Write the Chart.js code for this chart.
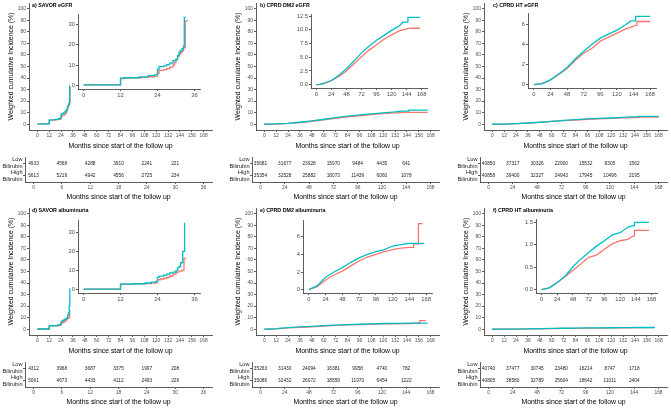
<!DOCTYPE html>
<html>
<head>
<meta charset="utf-8">
<script src="https://cdn.jsdelivr.net/npm/chart.js@4.4.1/dist/chart.umd.min.js"></script>
<style>
  body { margin: 0; background: #fff; width: 671px; height: 408px; overflow: hidden; position: relative; }
  canvas { position: absolute; }
  .ttl { position: absolute; font: bold 5.3px "Liberation Sans", Arial, sans-serif; white-space: nowrap; line-height: 1; color: #000; }
</style>
</head>
<body>
<script>
// tick labels
const mainTicks = [0, 12, 24, 36, 48, 60, 72, 84, 96, 108, 120, 132, 144, 156, 168];
const incTicks = [0, 10, 20, 30, 40, 50, 60, 70, 80, 90, 100];
const savorTicks = [0, 12, 24, 36];
const cprdTicks = [0, 24, 48, 72, 96, 120, 144, 168];
const savorTableTicks = [0, 6, 12, 18, 24, 30, 36];
const savorRiskMonths = [0, 6, 12, 18, 24, 30];
const cprdRiskMonths = [0, 24, 48, 72, 96, 120, 144];

// a) SAVOR eGFR
const aTimeLow = [0, 12, 13, 16, 19, 21, 23, 24, 24.5, 26, 27, 28, 29, 29.5, 30, 30.5, 31, 31.5, 32, 32.5, 33, 33.9];
const aIncLow = [0.3, 3.4, 3.6, 3.8, 4.0, 4.3, 4.6, 6.0, 7.4, 7.8, 8.3, 9.0, 10.0, 11.2, 12.6, 14.2, 15.3, 16.2, 17.0, 18.5, 31.6, 31.6];
const aTimeHigh = [0, 12, 13, 18, 21, 23, 24, 24.5, 26, 27, 28, 29, 30, 30.5, 31, 31.5, 32, 32.4, 32.7, 33.2];
const aIncHigh = [0.3, 3.6, 3.8, 4.2, 4.8, 5.2, 8.0, 9.2, 9.6, 10.2, 11.0, 12.2, 12.8, 14.6, 16.5, 17.2, 18.0, 19.3, 33.3, 33.3];
const aRiskLow = [4933, 4568, 4288, 3910, 2241, 221];
const aRiskHigh = [5613, 5219, 4942, 4556, 2725, 234];

// b) CPRD DM2 eGFR
const bTimeLow = [0, 6, 12, 24, 36, 48, 60, 72, 84, 96, 108, 120, 132, 138, 144, 150, 165];
const bIncLow = [0, 0.05, 0.2, 0.7, 1.5, 2.5, 3.8, 5.1, 6.3, 7.3, 8.3, 9.1, 9.8, 10.0, 10.2, 10.3, 10.3];
const bTimeHigh = [0, 6, 12, 24, 36, 48, 60, 72, 84, 96, 108, 120, 132, 138, 146, 146, 165];
const bIncHigh = [0, 0.05, 0.25, 0.75, 1.7, 2.9, 4.3, 5.8, 7.0, 8.1, 9.0, 9.9, 10.7, 11.4, 11.4, 12.3, 12.3];
const bRiskLow = [35681, 31677, 23928, 15970, 9484, 4435, 641];
const bRiskHigh = [35354, 32528, 25882, 18073, 11439, 6060, 1078];

// c) CPRD HT eGFR
const cTimeLow = [0, 12, 24, 36, 48, 60, 72, 84, 96, 108, 120, 132, 144, 149, 149, 168];
const cIncLow = [0, 0.1, 0.45, 1.0, 1.6, 2.4, 3.1, 3.6, 4.3, 4.7, 5.1, 5.5, 5.8, 5.9, 6.25, 6.25];
const cTimeHigh = [0, 12, 24, 36, 48, 60, 72, 84, 96, 108, 120, 132, 140, 147, 147, 168];
const cIncHigh = [0, 0.1, 0.47, 1.05, 1.7, 2.55, 3.3, 4.0, 4.6, 5.0, 5.4, 5.9, 6.3, 6.3, 6.75, 6.75];
const cRiskLow = [40850, 37317, 30326, 22900, 15532, 8305, 1562];
const cRiskHigh = [40858, 39400, 32327, 24943, 17945, 10496, 2195];

// d) SAVOR albuminuria
const dTimeLow = [0, 12, 16, 20, 22, 23.5, 24, 25, 26, 27, 28, 29, 30, 31, 32, 32.6, 33.3];
const dIncLow = [0.2, 2.9, 3.0, 3.2, 3.4, 3.8, 5.2, 5.6, 6.0, 6.5, 7.2, 8.2, 9.2, 9.8, 10.3, 16.5, 16.5];
const dTimeHigh = [0, 12, 16, 20, 22, 23.5, 24, 24.5, 26, 27, 28, 29, 30, 30.5, 31, 31.5, 32.2, 32.8, 33.0];
const dIncHigh = [0.2, 2.9, 3.1, 3.5, 3.9, 4.3, 6.5, 7.1, 7.6, 8.2, 8.8, 9.2, 10.0, 11.5, 12.2, 14.2, 20.2, 35.0, 35.0];
const dRiskLow = [4312, 3968, 3687, 3375, 1997, 208];
const dRiskHigh = [5061, 4673, 4433, 4112, 2493, 226];

// e) CPRD DM2 albuminuria
const eTimeLow = [0, 12, 24, 36, 48, 60, 72, 84, 96, 108, 120, 132, 144, 150, 150, 157, 157, 163];
const eIncLow = [0, 0.34, 1.1, 1.66, 2.1, 2.7, 3.25, 3.7, 4.0, 4.3, 4.55, 4.7, 4.8, 4.8, 5.2, 5.2, 7.5, 7.5];
const eTimeHigh = [0, 12, 24, 36, 48, 60, 72, 84, 96, 108, 120, 132, 144, 165];
const eIncHigh = [0, 0.45, 1.4, 2.0, 2.5, 3.1, 3.6, 4.0, 4.3, 4.55, 4.95, 5.1, 5.25, 5.25];
const eRiskLow = [35263, 31430, 24094, 16381, 9958, 4740, 782];
const eRiskHigh = [35086, 32432, 26072, 18559, 11970, 6454, 1222];

// f) CPRD HT albuminuria
const fTimeLow = [0, 12, 24, 36, 48, 60, 72, 84, 96, 108, 120, 132, 138, 142, 142, 164];
const fIncLow = [0, 0.04, 0.16, 0.29, 0.43, 0.57, 0.72, 0.77, 0.90, 1.02, 1.09, 1.12, 1.18, 1.2, 1.32, 1.32];
const fTimeHigh = [0, 12, 24, 36, 48, 60, 72, 84, 96, 108, 120, 132, 138, 142, 142, 164];
const fIncHigh = [0, 0.04, 0.16, 0.30, 0.51, 0.68, 0.83, 0.97, 1.09, 1.22, 1.27, 1.39, 1.42, 1.42, 1.50, 1.50];
const fRiskLow = [40740, 37477, 30745, 23480, 16214, 8747, 1718];
const fRiskHigh = [40805, 38580, 32789, 25604, 18642, 11011, 2404];

const FONT = '"Liberation Sans", Arial, sans-serif';
const RED = '#F8766D';
const CYAN = '#00BFC4';
const XTITLE = 'Months since start of the follow up';

const panels = [
  { col: 0, row: 0, title: 'a) SAVOR eGFR', tx: 32, stepped: true,
    lowT: aTimeLow, lowY: aIncLow, highT: aTimeHigh, highY: aIncHigh,
    inset: { L: 78, R: 200, T: 14, B: 89, xmin: -1.8, xmax: 37.8, xt: savorTicks, ymin: -1.7, ymax: 35, yt: [0, 10, 20, 30], dec: 0 },
    risk: { months: savorRiskMonths, low: aRiskLow, high: aRiskHigh, xt: savorTableTicks, max: 36 } },
  { col: 1, row: 0, title: 'b) CPRD DM2 eGFR', tx: 33, stepped: false,
    lowT: bTimeLow, lowY: bIncLow, highT: bTimeHigh, highY: bIncHigh,
    inset: { L: 84, R: 200, T: 14, B: 88, xmin: -8.4, xmax: 176.4, xt: cprdTicks, ymin: -0.62, ymax: 12.9, yt: [0, 2.5, 5, 7.5, 10, 12.5], dec: 1 },
    risk: { months: cprdRiskMonths, low: bRiskLow, high: bRiskHigh, xt: cprdTicks, max: 168 } },
  { col: 2, row: 0, title: 'c) CPRD HT eGFR', tx: 38, stepped: false,
    lowT: cTimeLow, lowY: cIncLow, highT: cTimeHigh, highY: cIncHigh,
    inset: { L: 73, R: 201, T: 13, B: 88, xmin: -8.4, xmax: 176.4, xt: cprdTicks, ymin: -0.34, ymax: 7.09, yt: [0, 2, 4, 6], dec: 0 },
    risk: { months: cprdRiskMonths, low: cRiskLow, high: cRiskHigh, xt: cprdTicks, max: 168 } },
  { col: 0, row: 1, title: 'd) SAVOR albuminuria', tx: 32, stepped: true,
    lowT: dTimeLow, lowY: dIncLow, highT: dTimeHigh, highY: dIncHigh,
    inset: { L: 78, R: 200, T: 15, B: 88, xmin: -1.8, xmax: 37.8, xt: savorTicks, ymin: -1.8, ymax: 36.8, yt: [0, 10, 20, 30], dec: 0 },
    risk: { months: savorRiskMonths, low: dRiskLow, high: dRiskHigh, xt: savorTableTicks, max: 36 } },
  { col: 1, row: 1, title: 'e) CPRD DM2 albuminuria', tx: 33, stepped: false,
    lowT: eTimeLow, lowY: eIncLow, highT: eTimeHigh, highY: eIncHigh,
    inset: { L: 76, R: 205, T: 15, B: 88, xmin: -8.4, xmax: 176.4, xt: cprdTicks, ymin: -0.38, ymax: 7.9, yt: [0, 2, 4, 6], dec: 0 },
    risk: { months: cprdRiskMonths, low: eRiskLow, high: eRiskHigh, xt: cprdTicks, max: 168 } },
  { col: 2, row: 1, title: 'f) CPRD HT albuminuria', tx: 38, stepped: false,
    lowT: fTimeLow, lowY: fIncLow, highT: fTimeHigh, highY: fIncHigh,
    inset: { L: 81, R: 202, T: 14, B: 88, xmin: -8.4, xmax: 176.4, xt: cprdTicks, ymin: -0.075, ymax: 1.575, yt: [0, 0.5, 1, 1.5], dec: 1 },
    risk: { months: cprdRiskMonths, low: fRiskLow, high: fRiskHigh, xt: cprdTicks, max: 168 } },
];

const colX = [0, 227, 455];
const rowY = [0, 205];

function makeCanvas(b) {
  const c = document.createElement('canvas');
  const w = b.R - b.L + b.ml + b.mr;
  const h = b.B - b.T + b.mt + b.mb;
  c.width = w; c.height = h;
  c.style.left = (b.L - b.ml) + 'px';
  c.style.top = (b.T - b.mt) + 'px';
  document.body.appendChild(c);
  return c;
}

function axis(min, max, ticks, o) {
  return {
    type: 'linear', min: min, max: max,
    afterBuildTicks: s => { s.ticks = ticks.map(v => ({ value: v })); },
    afterFit: s => {
      if (o.w !== undefined) s.width = o.w;
      if (o.h !== undefined) s.height = o.h;
    },
    grid: { display: true, drawOnChartArea: false, drawTicks: true, tickLength: 2, color: '#333', lineWidth: 0.8 },
    border: { display: true, color: '#333', width: 0.8 },
    ticks: { font: { family: FONT, size: o.fs }, color: o.color || '#4d4d4d', padding: o.pad, maxRotation: 0, autoSkip: false,
             callback: o.cb || (v => String(v)) },
    title: o.title ? { display: true, text: o.title, font: { family: FONT, size: 6.9 }, color: '#000',
                       padding: o.tpad || 0 } : { display: false }
  };
}

function lines(p) {
  const pts = (T, Y) => T.map((t, i) => ({ x: t, y: Y[i] }));
  return [
    { data: pts(p.highT, p.highY), borderColor: CYAN, borderWidth: 1.3, showLine: true, pointRadius: 0, stepped: p.stepped, fill: false },
    { data: pts(p.lowT, p.lowY), borderColor: RED, borderWidth: 1.3, showLine: true, pointRadius: 0, stepped: p.stepped, fill: false }
  ];
}

function baseOptions(b, scales) {
  return {
    responsive: false, animation: false, events: [],
    layout: { padding: { left: 0, top: b.mt, right: b.mr, bottom: 0 } },
    plugins: { legend: { display: false }, tooltip: { enabled: false } },
    scales: scales
  };
}

panels.forEach(p => {
  const ox = colX[p.col], oy = rowY[p.row];

  // main plot
  const mb = { L: ox + 29, R: ox + 212, T: oy + 3, B: oy + 130, ml: 29, mt: 6, mr: 8, mb: 20 };
  new Chart(makeCanvas(mb), {
    type: 'scatter',
    data: { datasets: lines(p) },
    options: baseOptions(mb, {
      x: axis(-8.4, 176.4, mainTicks, { h: mb.mb, fs: 4.9, pad: 1.2, title: XTITLE }),
      y: axis(-5, 105, incTicks, { w: mb.ml, fs: 4.9, pad: 1, title: 'Weighted cumulative Incidence (%)', tpad: { top: 7 } })
    })
  });

  // inset
  const s = p.inset;
  const ib = { L: ox + s.L, R: ox + s.R, T: oy + s.T, B: oy + s.B, ml: 22, mt: 6, mr: 6, mb: 10 };
  new Chart(makeCanvas(ib), {
    type: 'scatter',
    data: { datasets: lines(p) },
    options: baseOptions(ib, {
      x: axis(s.xmin, s.xmax, s.xt, { h: ib.mb, fs: 5.8, pad: 1 }),
      y: axis(s.ymin, s.ymax, s.yt, { w: ib.ml, fs: 5.8, pad: 1, cb: v => v.toFixed(s.dec) })
    })
  });

  // number at risk table
  const r = p.risk;
  const tb = { L: ox + 25, R: ox + 212, T: oy + 157, B: oy + 182, ml: 25, mt: 9, mr: 8, mb: 19 };
  const riskText = {
    id: 'riskText',
    afterDatasetsDraw(chart) {
      const { ctx, scales: { x, y } } = chart;
      ctx.save();
      ctx.font = '4.8px ' + FONT;
      ctx.fillStyle = '#1a1a1a';
      ctx.textAlign = 'center';
      ctx.textBaseline = 'middle';
      r.months.forEach((m, i) => {
        ctx.fillText(String(r.low[i]), x.getPixelForValue(m), y.getPixelForValue(0.75));
        ctx.fillText(String(r.high[i]), x.getPixelForValue(m), y.getPixelForValue(0.25));
      });
      ctx.restore();
    }
  };
  new Chart(makeCanvas(tb), {
    type: 'scatter',
    data: { datasets: [{ data: [] }] },
    options: baseOptions(tb, {
      x: axis(-0.05 * r.max, 1.05 * r.max, r.xt, { h: tb.mb, fs: 4.9, pad: 1.2, title: XTITLE }),
      y: axis(0, 1, [0.25, 0.75], { w: tb.ml, fs: 5.6, pad: 0.5, color: '#222',
          cb: v => v > 0.5 ? ['Low', 'Bilirubin'] : ['High', 'Bilirubin'] })
    }),
    plugins: [riskText]
  });

  // panel tag
  const t = document.createElement('div');
  t.className = 'ttl';
  t.textContent = p.title;
  t.style.left = (ox + p.tx) + 'px';
  t.style.top = (oy + 3) + 'px';
  document.body.appendChild(t);
});
</script>
</body>
</html>
